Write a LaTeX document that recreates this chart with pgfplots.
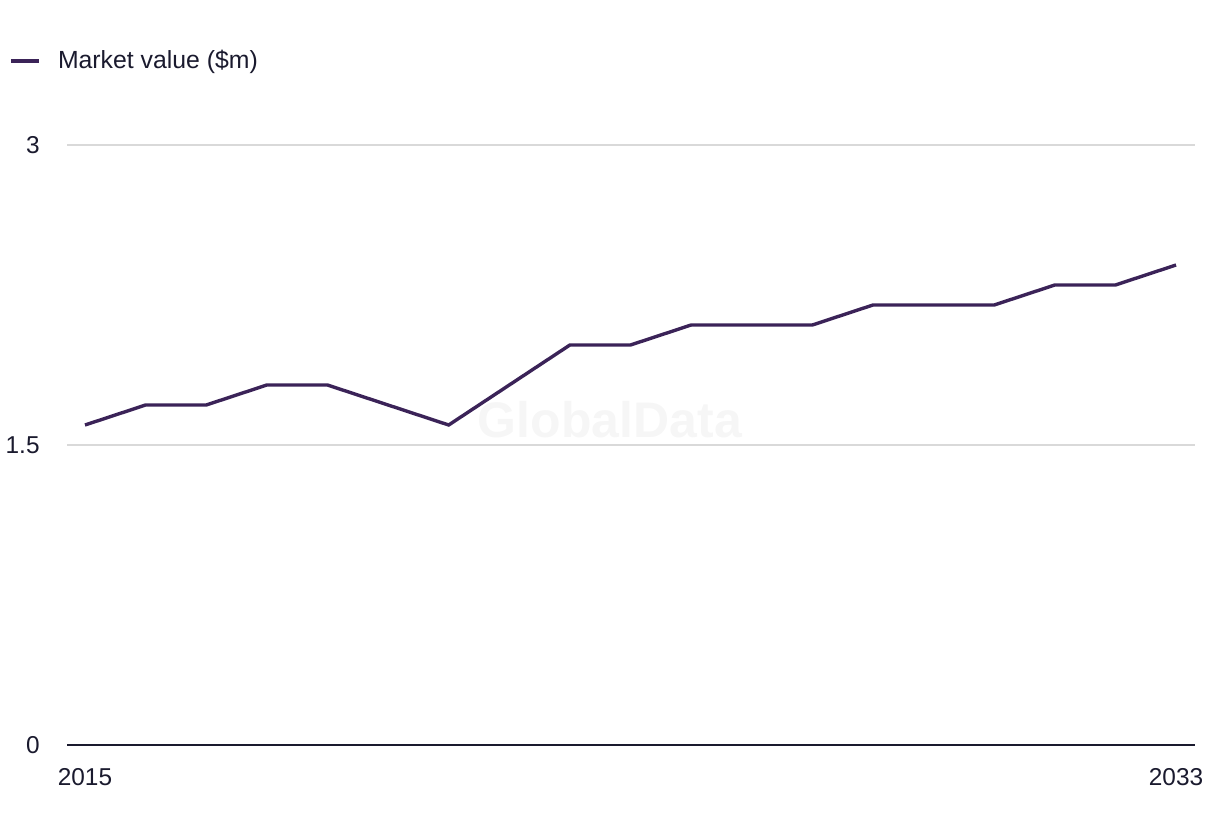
\documentclass[border=0pt]{standalone}
\usepackage{fontspec}
\setmainfont{Liberation Sans}
\usepackage{pgfplots}
\pgfplotsset{compat=1.18}
\definecolor{linec}{RGB}{59,35,88}
\definecolor{txt}{RGB}{26,26,46}
\definecolor{gridc}{RGB}{217,217,217}
\definecolor{wm}{RGB}{246,246,246}
\begin{document}
\begin{tikzpicture}[x=1pt,y=1pt]
\path[use as bounding box] (0,0) rectangle (610,418);
\begin{axis}[
  at={(33.5pt,45.5pt)}, anchor=south west,
  width=564pt, height=300pt, scale only axis,
  xmin=2014.703, xmax=2033.313, ymin=0, ymax=3,
  axis x line=bottom, axis y line=left,
  y axis line style={draw=none},
  x axis line style={-, draw=txt, line width=1pt},
  xtick={2015,2033}, xticklabels={2015,2033},
  ytick={0,1.5,3}, yticklabels={0,1.5,3},
  major tick length=0pt,
  ymajorgrids, grid style={gridc, line width=0.75pt},
  tick label style={font=\fontsize{12.2}{14}\selectfont, text=txt},
  yticklabel style={anchor=east, inner sep=0pt, xshift=-13.5pt},
  xticklabel style={anchor=north, inner sep=0pt, yshift=-11.5pt},
  /pgf/number format/assume math mode=true,
  clip=false,
  legend style={draw=none, fill=none, inner sep=0pt, outer sep=0pt,
    at={(axis description cs:0,1)}, anchor=west, xshift=-29pt, yshift=42pt,
    font=\fontsize{12.4}{14}\selectfont, text=txt,
    nodes={inner sep=0pt}, column sep=8.5pt},
  legend cell align=left,
  legend image code/.code={\draw[#1, line width=2pt] (0pt,0pt) -- (14pt,0pt);},
]
\node[font=\bfseries\fontsize{25}{28}\selectfont, text=wm] at (axis cs:2023.66,1.625) {GlobalData};
\addplot[linec, line width=1.7pt, mark=none] coordinates {
 (2015,1.6) (2016,1.7) (2017,1.7) (2018,1.8) (2019,1.8) (2020,1.7)
 (2021,1.6) (2022,1.8) (2023,2.0) (2024,2.0) (2025,2.1) (2026,2.1)
 (2027,2.1) (2028,2.2) (2029,2.2) (2030,2.2) (2031,2.3) (2032,2.3)
 (2033,2.4)};
\addlegendentry{Market value (\$m)}
\end{axis}
\end{tikzpicture}
\end{document}
